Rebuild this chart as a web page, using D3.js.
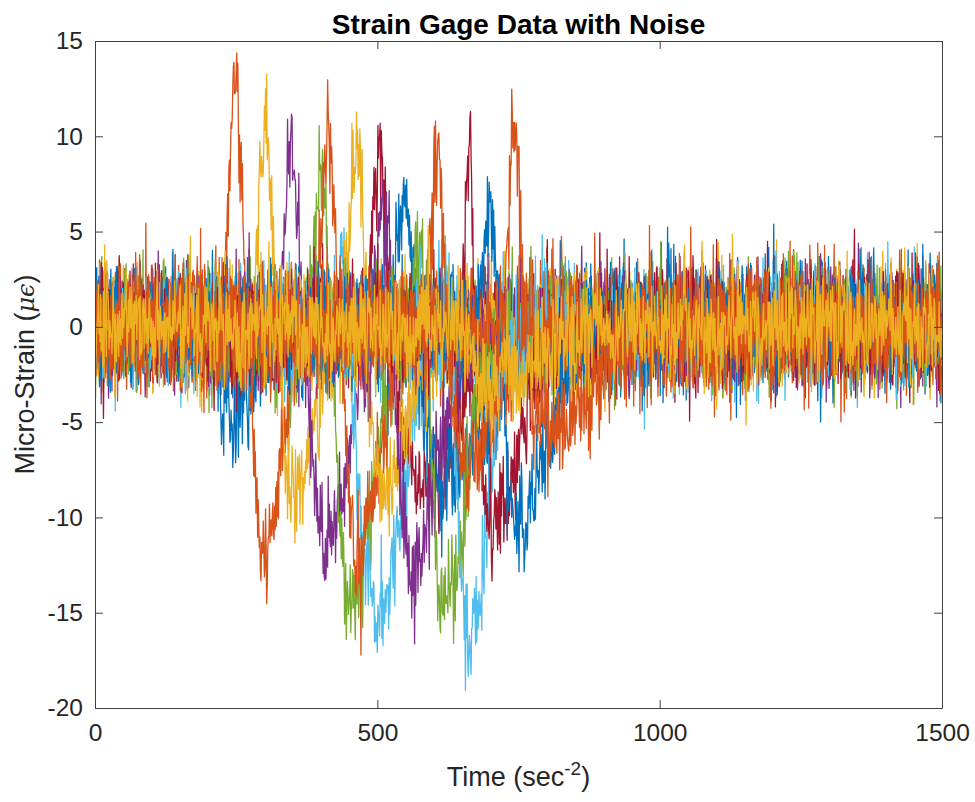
<!DOCTYPE html>
<html>
<head>
<meta charset="utf-8">
<script src="https://cdn.jsdelivr.net/npm/d3@7"></script>
<style>
  body { margin: 0; background: #fff; }
  text { font-family: "Liberation Sans", Arial, sans-serif; fill: #262626; }
</style>
</head>
<body>
<svg id="chart"></svg>
<script>
const title = "Strain Gage Data with Noise";
const xTicks = [0, 500, 1000, 1500];
const yTicks = [-20, -15, -10, -5, 0, 5, 10, 15];
const nSamples = 1500;

// one entry per gage, in plot order (the last one ends up on top)
const seriesColors = ["#0072BD", "#D95319", "#EDB120", "#7E2F8E", "#77AC30", "#4DBEEE", "#A2142F",
                      "#0072BD", "#D95319", "#EDB120", "#7E2F8E", "#77AC30", "#4DBEEE", "#A2142F",
                      "#0072BD", "#D95319", "#D95319", "#EDB120"];
// positive spike of each gage (time, micro-strain, half width)
const peakTimes   = [205, 249, 302, 349, 401, 445, 505, 550, 413, 464, 512, 583, 625, 664, 706, 606, 744, 650];
const peakValues  = [4, 13, 10.2, 9.5, 9, 7.5, 10.3, 8, 9.9, 9.4, 7, 8, 7.5, 12.3, 9.2, 9.4, 11.2, 2];
const peakWidths  = [10, 11, 11, 11, 11, 12, 11, 14, 11, 11, 12, 14, 12, 8, 15, 10, 10, 12];
// negative dip that follows each spike: centre, depth, width before and after the centre
const troughTimes  = [240, 298, 352, 405, 452, 505, 580, 620, 464, 510, 558, 612, 664, 702, 742, 655, 800, 700];
const troughValues = [-5, -12, -9, -11.5, -14.5, -15, -8.5, -8, -12, -9, -13, -15.5, -17, -10, -10.5, -7, -5.5, -2.5];
const troughLeft   = [30, 16, 17, 18, 20, 40, 35, 40, 17, 17, 18, 20, 25, 25, 25, 18, 30, 40];
const troughRight  = [40, 30, 35, 40, 40, 40, 60, 70, 38, 40, 45, 40, 30, 50, 55, 50, 80, 80];
// the noise itself cannot be read point by point; only its spread is taken from the picture
const noiseSigma = 1.45;

const width = 975, height = 802;
const margin = { top: 41, right: 33, bottom: 94, left: 95 };

const svg = d3.select("#chart").attr("width", width).attr("height", height);

const x = d3.scaleLinear().domain([0, 1500]).range([margin.left, width - margin.right]);
const y = d3.scaleLinear().domain([-20, 15]).range([height - margin.bottom, margin.top]);

// seeded generator so the noise is the same on every run
function mulberry32(a) {
  return function () {
    a |= 0; a = a + 0x6D2B79F5 | 0;
    let t = Math.imul(a ^ a >>> 15, 1 | a);
    t = t + Math.imul(t ^ t >>> 7, 61 | t) ^ t;
    return ((t ^ t >>> 14) >>> 0) / 4294967296;
  };
}
const rand = mulberry32(20240611);
function gauss() {
  const u = 1 - rand(), v = rand();
  return Math.sqrt(-2 * Math.log(u)) * Math.cos(2 * Math.PI * v);
}

const series = seriesColors.map((color, i) => {
  const pts = d3.range(nSamples).map(t => {
    const p = peakValues[i] * Math.exp(-0.5 * ((t - peakTimes[i]) / peakWidths[i]) ** 2);
    const w = t < troughTimes[i] ? troughLeft[i] : troughRight[i];
    const q = troughValues[i] * Math.exp(-0.5 * ((t - troughTimes[i]) / w) ** 2);
    return [t, p + q + noiseSigma * gauss()];
  });
  return { color, pts };
});

svg.append("clipPath").attr("id", "plot-clip")
  .append("rect")
  .attr("x", margin.left).attr("y", margin.top)
  .attr("width", x(1500) - x(0)).attr("height", y(-20) - y(15));

const line = d3.line().x(d => x(d[0])).y(d => y(d[1]));

svg.append("g").attr("clip-path", "url(#plot-clip)")
  .selectAll("path")
  .data(series)
  .join("path")
  .attr("d", d => line(d.pts))
  .attr("fill", "none")
  .attr("stroke", d => d.color)
  .attr("stroke-width", 1.3)
  .attr("stroke-linejoin", "round");

// axes, MATLAB style: box on, ticks pointing in
const axisColor = "#404040";
const fmt = d => String(d);
function styleAxis(g) {
  g.selectAll("path.domain").attr("stroke", axisColor).attr("stroke-width", 1);
  g.selectAll(".tick line").attr("stroke", axisColor).attr("stroke-width", 1);
  g.selectAll(".tick text").attr("font-size", 24.5).attr("fill", "#262626");
}

svg.append("g")
  .attr("transform", `translate(0,${y(-20)})`)
  .call(d3.axisBottom(x).tickValues(xTicks).tickFormat(fmt).tickSizeInner(-8).tickSizeOuter(0).tickPadding(10))
  .call(styleAxis)
  .call(g => g.selectAll(".tick text").attr("dy", "0.95em"));

svg.append("g")
  .attr("transform", `translate(0,${y(15)})`)
  .call(d3.axisTop(x).tickValues(xTicks).tickSizeInner(-8).tickSizeOuter(0).tickFormat(""))
  .call(styleAxis);

svg.append("g")
  .attr("transform", `translate(${x(0)},0)`)
  .call(d3.axisLeft(y).tickValues(yTicks).tickFormat(fmt).tickSizeInner(-8).tickSizeOuter(0).tickPadding(12))
  .call(styleAxis);

svg.append("g")
  .attr("transform", `translate(${x(1500)},0)`)
  .call(d3.axisRight(y).tickValues(yTicks).tickSizeInner(-8).tickSizeOuter(0).tickFormat(""))
  .call(styleAxis);

// title and labels
svg.append("text")
  .attr("x", (x(0) + x(1500)) / 2).attr("y", 34)
  .attr("text-anchor", "middle")
  .attr("font-size", 28).attr("font-weight", "bold").style("fill", "#000")
  .text(title);

const xLabel = svg.append("text")
  .attr("x", (x(0) + x(1500)) / 2).attr("y", 786)
  .attr("text-anchor", "middle")
  .attr("font-size", 27);
xLabel.append("tspan").text("Time (sec");
xLabel.append("tspan").attr("dy", -11).attr("font-size", 19).text("-2");
xLabel.append("tspan").attr("dy", 11).text(")");

const yLabel = svg.append("text")
  .attr("transform", `translate(34,${(y(-20) + y(15)) / 2}) rotate(-90)`)
  .attr("text-anchor", "middle")
  .attr("font-size", 27);
yLabel.append("tspan").text("Micro-Strain (");
yLabel.append("tspan").style("font-family", "'DejaVu Serif', serif").style("font-style", "italic")
  .attr("font-size", 24).text("\u03BC\u03F5");
yLabel.append("tspan").text(")");
</script>
</body>
</html>
